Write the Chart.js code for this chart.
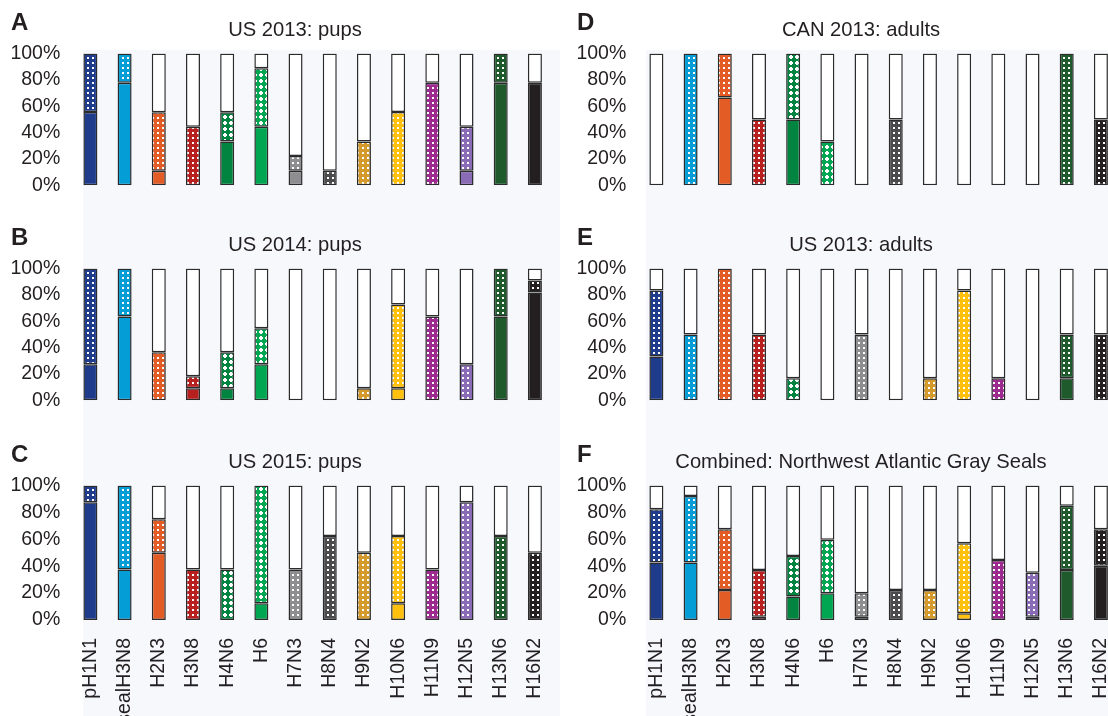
<!DOCTYPE html>
<html>
<head>
<meta charset="utf-8">
<script src="https://cdn.jsdelivr.net/npm/chart.js@4.4.1/dist/chart.umd.min.js"></script>
<style>
  html, body { margin: 0; padding: 0; width: 1108px; height: 716px; overflow: hidden; background: #fff; }
  .tint { position: absolute; background: #f6f8fc; }
  canvas { position: absolute; }
</style>
</head>
<body>
<div class="tint" style="left:83px;top:50px;width:477px;height:666px"></div>
<div class="tint" style="left:646px;top:50px;width:462px;height:666px"></div>

<canvas id="panelA" width="590" height="210" style="left:0;top:0"></canvas>
<canvas id="panelB" width="590" height="210" style="left:0;top:214.8px"></canvas>
<canvas id="panelC" width="590" height="290" style="left:0;top:431.5px"></canvas>
<canvas id="panelD" width="590" height="210" style="left:566px;top:0"></canvas>
<canvas id="panelE" width="590" height="210" style="left:566px;top:214.8px"></canvas>
<canvas id="panelF" width="590" height="290" style="left:566px;top:431.5px"></canvas>

<script>
// virus subtypes, one bar each
const categories = ['pH1N1', 'sealH3N8', 'H2N3', 'H3N8', 'H4N6', 'H6', 'H7N3', 'H8N4',
                    'H9N2', 'H10N6', 'H11N9', 'H12N5', 'H13N6', 'H16N2'];
const colors = ['#1f3b8c', '#049dd6', '#e35b25', '#b8201f', '#00843f', '#00a651', '#8e8e90',
                '#4b4b4d', '#d49a2c', '#ffc10e', '#9c2a8f', '#8a6bb6', '#1e5a2b', '#231f20'];
const crossPattern = ['H4N6', 'H6'];
const yTicks = [0, 20, 40, 60, 80, 100];

// % solid (lower part) and % dotted (upper part) per subtype
const solidA = [55.6, 77.8, 11.1, 0, 33.3, 44.4, 11.1, 0, 0, 0, 0, 11.1, 77.8, 77.8];
const dotA   = [44.4, 22.2, 44.4, 44.4, 22.2, 44.4, 11.1, 11.1, 33.3, 55.6, 77.8, 33.3, 22.2, 0];

const solidB = [27.3, 63.6, 0, 9.1, 9.1, 27.3, 0, 0, 0, 9.1, 0, 0, 63.6, 81.8];
const dotB   = [72.7, 36.4, 36.4, 9.1, 27.3, 27.3, 0, 0, 9.1, 63.6, 63.6, 27.3, 36.4, 9.1];

const solidC = [87.5, 37.5, 50, 0, 0, 12.5, 0, 0, 0, 12.5, 0, 0, 0, 0];
const dotC   = [12.5, 62.5, 25, 37.5, 37.5, 87.5, 37.5, 62.5, 50, 50, 37.5, 87.5, 62.5, 50];

const solidD = [0, 0, 66.7, 0, 50, 0, 0, 0, 0, 0, 0, 0, 0, 0];
const dotD   = [0, 100, 33.3, 50, 50, 33.3, 0, 50, 0, 0, 0, 0, 100, 50];

const solidE = [33.3, 0, 0, 0, 0, 0, 0, 0, 0, 0, 0, 0, 16.7, 0];
const dotE   = [50, 50, 100, 50, 16.7, 0, 50, 0, 16.7, 83.3, 16.7, 0, 33.3, 50];

const solidF = [42.7, 42.7, 22.3, 2.5, 17.4, 19.9, 2.5, 0, 0, 5, 0, 2.5, 37.2, 40.4];
const dotF   = [39.7, 49.6, 45.2, 34.7, 30.2, 39.7, 17.4, 22.3, 22.3, 52, 44.7, 32.7, 47.7, 27.1];

const FONT = '"Liberation Sans", Arial, sans-serif';
const INK = '#231f20';

function makeDots(ctx, color) {
  const t = document.createElement('canvas');
  t.width = 5; t.height = 5;
  const c = t.getContext('2d');
  c.fillStyle = color; c.fillRect(0, 0, 5, 5);
  c.fillStyle = '#ffffff'; c.fillRect(2, 2, 2, 2);
  return ctx.createPattern(t, 'repeat');
}

function makeCrosses(ctx, color) {
  const t = document.createElement('canvas');
  t.width = 6; t.height = 6;
  const c = t.getContext('2d');
  c.fillStyle = color; c.fillRect(0, 0, 6, 6);
  c.fillStyle = '#ffffff';
  c.fillRect(2, 1, 2, 4);
  c.fillRect(1, 2, 4, 2);
  return ctx.createPattern(t, 'repeat');
}

const letterPlugin = {
  id: 'panelLetter',
  afterDraw(chart, args, opts) {
    const ctx = chart.ctx;
    ctx.save();
    ctx.font = 'bold 24px ' + FONT;
    ctx.fillStyle = INK;
    ctx.textBaseline = 'alphabetic';
    ctx.fillText(opts.text, 11, 30);
    ctx.restore();
  }
};

const nz = v => (v > 0.05 ? v : null);

function drawPanel(id, letter, title, solid, dot, withLabels) {
  const canvas = document.getElementById(id);
  const ctx = canvas.getContext('2d');
  const dotFills = categories.map((name, i) =>
    crossPattern.includes(name) ? makeCrosses(ctx, colors[i]) : makeDots(ctx, colors[i]));
  const rest = solid.map((s, i) => Math.max(0, Math.round((100 - s - dot[i]) * 10) / 10));
  const barStyle = {
    borderColor: '#2b2b2b',
    borderWidth: 1.5,
    borderSkipped: false,
    barPercentage: 0.41,
    categoryPercentage: 1
  };

  new Chart(canvas, {
    type: 'bar',
    data: {
      labels: categories,
      datasets: [
        Object.assign({ label: 'solid', data: solid.map(nz), backgroundColor: colors }, barStyle),
        Object.assign({ label: 'dotted', data: dot.map(nz), backgroundColor: dotFills }, barStyle),
        Object.assign({ label: 'none', data: rest.map(nz), backgroundColor: '#ffffff' }, barStyle)
      ]
    },
    options: {
      responsive: false,
      animation: false,
      events: [],
      layout: { padding: 0 },
      scales: {
        x: {
          stacked: true,
          grid: { display: false, drawTicks: false },
          border: { display: false },
          ticks: {
            display: withLabels,
            autoSkip: false,
            maxRotation: 90,
            minRotation: 90,
            padding: 18,
            color: INK,
            font: { family: FONT, size: 19.5 }
          },
          afterFit: s => { s.height = canvas.height - 188; }
        },
        y: {
          stacked: true,
          min: 0,
          max: 100,
          afterBuildTicks: s => { s.ticks = yTicks.map(v => ({ value: v })); },
          grid: { display: false, drawTicks: false },
          border: { display: false },
          ticks: {
            padding: 13,
            color: INK,
            font: { family: FONT, size: 19.5 },
            callback: v => v + '%'
          },
          afterFit: s => { s.width = 73.3; }
        },
        // empty spacer on the right so the title sits where the original has it
        ySpacer: {
          axis: 'y',
          type: 'linear',
          position: 'right',
          grid: { display: false, drawTicks: false },
          border: { display: false },
          ticks: { display: false },
          afterFit: s => { s.width = 38; }
        }
      },
      plugins: {
        legend: { display: false },
        tooltip: { enabled: false },
        title: {
          display: true,
          text: title,
          color: INK,
          font: { family: FONT, size: 20.2, weight: 'normal', lineHeight: 1.2 },
          padding: { top: 18.4, bottom: 10.9 }
        },
        panelLetter: { text: letter }
      }
    },
    plugins: [letterPlugin]
  });
}

drawPanel('panelA', 'A', 'US 2013: pups', solidA, dotA, false);
drawPanel('panelB', 'B', 'US 2014: pups', solidB, dotB, false);
drawPanel('panelC', 'C', 'US 2015: pups', solidC, dotC, true);
drawPanel('panelD', 'D', 'CAN 2013: adults', solidD, dotD, false);
drawPanel('panelE', 'E', 'US 2013: adults', solidE, dotE, false);
drawPanel('panelF', 'F', 'Combined: Northwest Atlantic Gray Seals', solidF, dotF, true);
</script>
</body>
</html>
